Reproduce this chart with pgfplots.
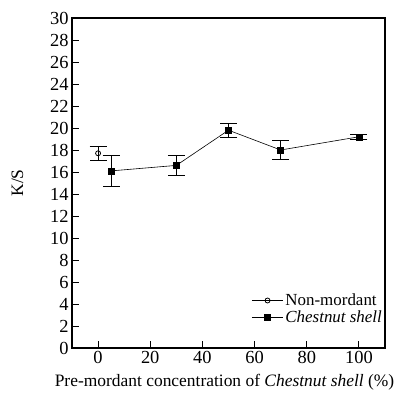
\documentclass[border=0pt]{standalone}
\usepackage{pgfplots}
\pgfplotsset{compat=1.18}
\usepackage{fontspec}
\setmainfont{Liberation Serif}
\begin{document}
\begin{tikzpicture}
\begin{axis}[
  name=ax,
  scale only axis,
  width=313bp, height=330bp,
  xmin=-10, xmax=110, ymin=0, ymax=30,
  xtick={0,20,40,60,80,100},
  ytick={0,2,...,30},
  tick pos=left, tick align=inside,
  major tick length=7bp,
  axis line style={line width=1.1pt},
  every tick/.style={black, line width=0.9pt},
  /pgf/number format/assume math mode=true,
  tick label style={font=\fontsize{18.5}{20}\selectfont},
  label style={font=\fontsize{17.5}{19}\selectfont},
  xlabel={Pre-mordant concentration of \textit{Chestnut shell} (\%)},
  ylabel={K/S},
  xlabel style={yshift=-3bp, xshift=-4bp},
  ylabel style={yshift=20bp},
  legend style={draw=none, fill=none, at={(0.997,0.065)}, anchor=south east,
    font=\fontsize{17}{18}\selectfont, row sep=0pt, inner sep=0pt},
  legend cell align=left,
  legend image code/.code={\draw[mark repeat=2,mark phase=2] plot coordinates {(0cm,0cm) (0.55cm,0cm) (1.1cm,0cm)};},
  legend image post style={line width=0.6pt},
]
\addplot[black, line width=0.6pt, mark=o, mark size=2.5bp, mark options={solid, line width=0.8pt},
  error bars/.cd, y dir=both, y explicit,
  error bar style={line width=0.8pt},
  error mark options={rotate=90, mark size=8.5bp, line width=0.8pt}]
  coordinates {(0,17.7) +- (0,0.65)};
\addlegendentry{Non-mordant}
\addplot[black, line width=0.6pt, mark=square*, mark size=3bp, mark options={solid},
  error bars/.cd, y dir=both, y explicit,
  error bar style={line width=0.8pt},
  error mark options={rotate=90, mark size=8.5bp, line width=0.8pt}]
  coordinates {
  (5,16.1) +- (0,1.4)
  (30,16.6) +- (0,0.9)
  (50,19.8) +- (0,0.65)
  (70,18.0) +- (0,0.85)
  (100,19.2) +- (0,0.25)
  };
\addlegendentry{\textit{Chestnut shell}}
\end{axis}
\pgfresetboundingbox
\useasboundingbox ([xshift=-72bp,yshift=-53bp]ax.south west) rectangle ([xshift=17bp,yshift=18bp]ax.north east);
\end{tikzpicture}
\end{document}
